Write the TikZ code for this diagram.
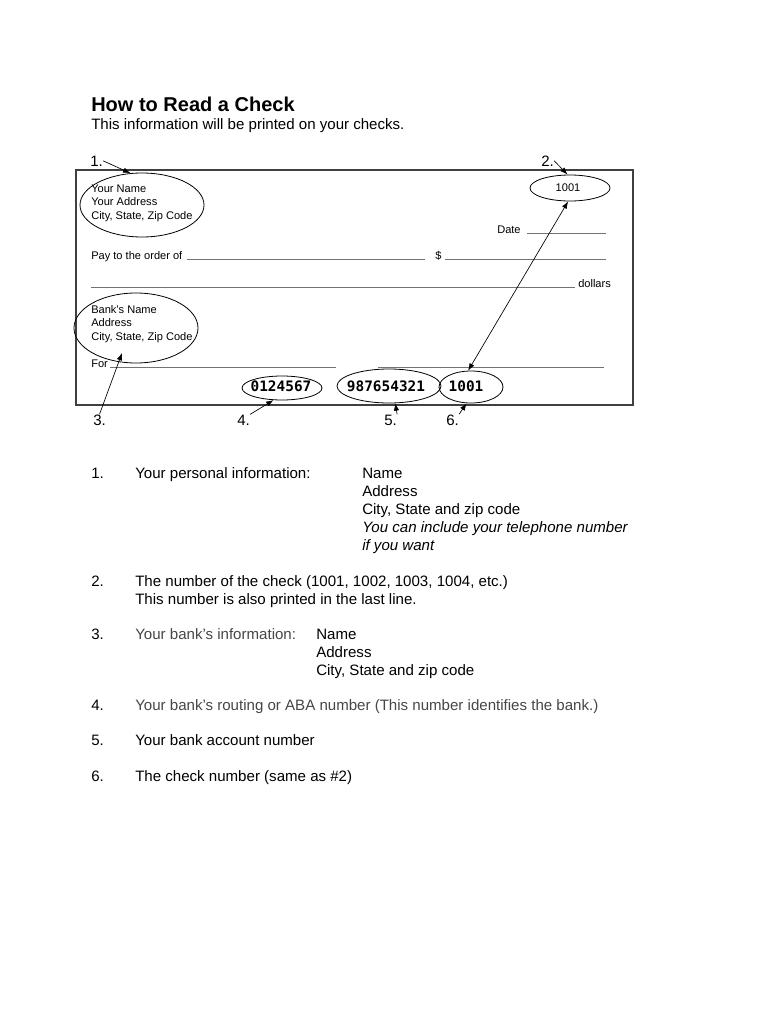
\documentclass[tikz,border=0pt]{standalone}
\usepackage{fontspec}
\setmainfont{Liberation Sans}
\newfontfamily\micrfont{DejaVu Sans Mono}
\usetikzlibrary{shapes.geometric,arrows.meta}

\tikzset{
  ovalmark/.style={draw=black, line width=0.6pt, ellipse, inner sep=0pt},
  chktext/.style={anchor=base west, inner sep=0pt, font=\fontsize{8.3}{10}\selectfont},
  bodytext/.style={anchor=base west, inner sep=0pt, font=\fontsize{11.3}{13.5}\selectfont},
  micrtext/.style={inner sep=0pt, font=\micrfont\bfseries\fontsize{10.8}{12}\selectfont},
  callout/.style={-{Latex[length=5.5pt,width=4pt]}, line width=0.5pt},
  fillline/.style={draw=black!55, line width=0.4pt},
}

\begin{document}
\begin{tikzpicture}[x=0.75pt, y=-0.75pt]
\useasboundingbox[fill=white] (0,0) rectangle (768,1024);
% Heading
\node[anchor=base west, inner sep=0pt, font=\fontsize{15}{18}\selectfont\bfseries] (title) at (91,112) {How to Read a Check};
\node[bodytext] (subtitle) at (91,129) {This information will be printed on your checks.};

% The check itself
\draw[draw=black!75, line width=0.9pt] (76,170) rectangle (633,405);
\node[chktext] (ownname) at (91,192) {Your Name};
\node[chktext] (ownaddr) at (91,205.5) {Your Address};
\node[chktext] (owncity) at (91,219) {City, State, Zip Code};
\node[chktext] (datelbl) at (497,233) {Date};
\draw[fillline] (527,233) -- (606,233);
\node[chktext] (paylbl) at (91,259) {Pay to the order of};
\draw[fillline] (187,259) -- (425,259);
\node[chktext] (dollarsign) at (435,259) {\$};
\draw[fillline] (445,259) -- (606,259);
\draw[fillline] (91,287) -- (575,287);
\node[chktext] (dollarslbl) at (578,287) {dollars};
\node[chktext] (bankname) at (91,313) {Bank’s Name};
\node[chktext] (bankaddr) at (91,326.5) {Address};
\node[chktext] (bankcity) at (91,340) {City, State, Zip Code};
\node[chktext] (forlbl) at (91,367) {For};
\draw[fillline] (110,367) -- (336,367);
\draw[fillline] (378,367) -- (604,367);

% Numbers printed on the check
\node[inner sep=0pt, font=\fontsize{8.3}{10}\selectfont] (chknum) at (568,188) {1001};
\node[micrtext] (routing) at (281,386) {0124567};
\node[micrtext] (account) at (386,386) {987654321};
\node[micrtext] (lastnum) at (466,386) {1001};

% Circled parts
\node[ovalmark, minimum width=93pt, minimum height=48pt] (e1) at (142,205) {};
\node[ovalmark, minimum width=60pt, minimum height=19.5pt] (e2) at (570,188) {};
\node[ovalmark, minimum width=93pt, minimum height=52.5pt] (e3) at (136,328) {};
\node[ovalmark, minimum width=60pt, minimum height=18pt] (e4) at (282,388) {};
\node[ovalmark, minimum width=78pt, minimum height=25.5pt] (e5) at (389,386) {};
\node[ovalmark, minimum width=48pt, minimum height=24pt] (e6) at (471,387) {};

% Numbers and pointers
\node[bodytext] (n1) at (90,166) {1.};
\node[bodytext] (n2) at (541,166) {2.};
\node[bodytext] (n3) at (93,425) {3.};
\node[bodytext] (n4) at (237,425) {4.};
\node[bodytext] (n5) at (384,425) {5.};
\node[bodytext] (n6) at (446,425) {6.};
\coordinate (e3tip) at (122,353);
\draw[callout] (n1.east) -- (e1.110);
\draw[callout] (n2.east) -- (e2.100);
\draw[callout] (n3.north) -- (e3tip);
\draw[callout] (n4.north east) -- (e4.235);
\draw[callout] (n5.north east) -- (e5.290);
\draw[callout] (n6.north east) -- (e6.255);
\draw[{Latex[length=5.5pt,width=4pt]}-{Latex[length=5.5pt,width=4pt]}, line width=0.5pt] (e2.262) -- (e6.100);

% Explanations
\node[bodytext] (i1) at (91,478) {1.};
\node[bodytext] (i1a) at (135,478) {Your personal information:};
\node[bodytext] (i1b) at (362,478) {Name};
\node[bodytext] (i1c) at (362,496) {Address};
\node[bodytext] (i1d) at (362,514) {City, State and zip code};
\node[bodytext, font=\fontsize{11.3}{13.5}\selectfont\itshape] (i1e) at (362,532) {You can include your telephone number};
\node[bodytext, font=\fontsize{11.3}{13.5}\selectfont\itshape] (i1f) at (362,550) {if you want};

\node[bodytext] (i2) at (91,586) {2.};
\node[bodytext] (i2a) at (135,586) {The number of the check (1001, 1002, 1003, 1004, etc.)};
\node[bodytext] (i2b) at (135,604) {This number is also printed in the last line.};

\node[bodytext] (i3) at (91,639) {3.};
\node[bodytext, text=black!72] (i3a) at (135,639) {Your bank’s information:};
\node[bodytext] (i3b) at (316,639) {Name};
\node[bodytext] (i3c) at (316,657) {Address};
\node[bodytext] (i3d) at (316,675) {City, State and zip code};

\node[bodytext] (i4) at (91,710) {4.};
\node[bodytext, text=black!72] (i4a) at (135,710) {Your bank’s routing or ABA number (This number identifies the bank.)};

\node[bodytext] (i5) at (91,745) {5.};
\node[bodytext] (i5a) at (135,745) {Your bank account number};

\node[bodytext] (i6) at (91,781) {6.};
\node[bodytext] (i6a) at (135,781) {The check number (same as \#2)};
\end{tikzpicture}
\end{document}
